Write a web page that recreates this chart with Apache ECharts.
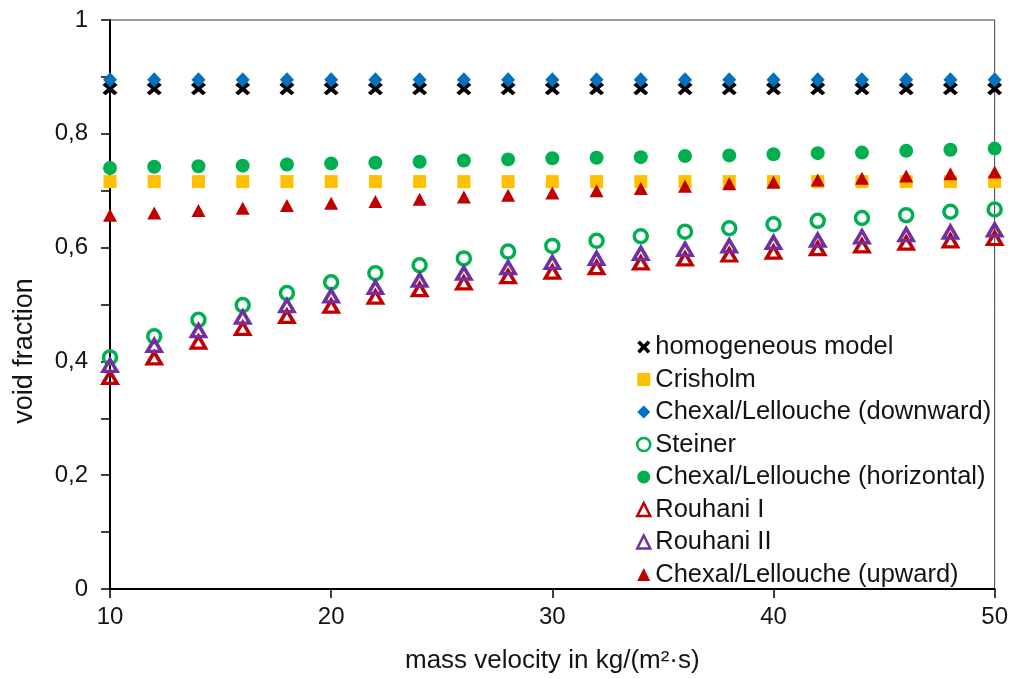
<!DOCTYPE html>
<html>
<head>
<meta charset="utf-8">
<script src="https://cdn.jsdelivr.net/npm/echarts@6/dist/echarts.min.js"></script>
<style>
  html, body { margin: 0; padding: 0; background: #fff; }
  #chart { width: 1011px; height: 679px; }
</style>
</head>
<body>
<div id="chart"></div>
<script>
// Mass velocity in kg/(m²·s)
const massVelocity = [10, 12, 14, 16, 18, 20, 22, 24, 26, 28, 30, 32, 34, 36, 38, 40, 42, 44, 46, 48, 50];

// Void fraction predicted by each correlation
const homogeneous = [0.879, 0.879, 0.879, 0.879, 0.879, 0.879, 0.879, 0.879, 0.879, 0.879, 0.879,
                     0.879, 0.879, 0.879, 0.879, 0.879, 0.879, 0.879, 0.879, 0.879, 0.879];
const crisholm = [0.716, 0.716, 0.716, 0.716, 0.716, 0.716, 0.716, 0.716, 0.716, 0.716, 0.716,
                  0.716, 0.716, 0.716, 0.716, 0.716, 0.716, 0.716, 0.716, 0.716, 0.716];
const chexalDownward = [0.895, 0.895, 0.895, 0.895, 0.895, 0.895, 0.895, 0.895, 0.895, 0.895, 0.895,
                        0.895, 0.895, 0.895, 0.895, 0.895, 0.895, 0.895, 0.895, 0.895, 0.895];
const steiner = [0.407, 0.444, 0.473, 0.499, 0.520, 0.539, 0.555, 0.569, 0.581, 0.593, 0.603,
                 0.612, 0.620, 0.628, 0.634, 0.641, 0.647, 0.652, 0.657, 0.663, 0.667];
const chexalHorizontal = [0.740, 0.742, 0.743, 0.744, 0.746, 0.748, 0.749, 0.751, 0.753, 0.755, 0.757,
                          0.758, 0.759, 0.761, 0.762, 0.764, 0.766, 0.767, 0.770, 0.772, 0.774];
const rouhaniI = [0.372, 0.406, 0.434, 0.458, 0.479, 0.497, 0.513, 0.526, 0.538, 0.549, 0.557,
                  0.565, 0.573, 0.580, 0.587, 0.592, 0.598, 0.603, 0.608, 0.612, 0.616];
const rouhaniII = [0.393, 0.428, 0.454, 0.478, 0.498, 0.515, 0.530, 0.543, 0.555, 0.565, 0.574,
                   0.581, 0.590, 0.597, 0.603, 0.609, 0.613, 0.619, 0.623, 0.627, 0.631];
const chexalUpward = [0.657, 0.661, 0.665, 0.669, 0.674, 0.678, 0.681, 0.685, 0.689, 0.692, 0.696,
                      0.700, 0.704, 0.708, 0.712, 0.715, 0.719, 0.722, 0.726, 0.730, 0.733];

const xTicks = [10, 20, 30, 40, 50];
const yTicks = [0, 0.2, 0.4, 0.6, 0.8, 1];

const FONT = "'Liberation Sans', Arial, sans-serif";
const TEXT = '#141414';
// bold "x" cross drawn as a filled outline
const CROSS = 'path://M0,2 L2,0 L5,3 L8,0 L10,2 L7,5 L10,8 L8,10 L5,7 L2,10 L0,8 L3,5 Z';

function pairs(ys) {
  return massVelocity.map((x, i) => [x, ys[i]]);
}

const seriesDefs = [
  { name: 'homogeneous model', data: homogeneous, symbol: CROSS, size: [15, 13],
    style: { color: '#000000' } },
  { name: 'Crisholm', data: crisholm, symbol: 'rect', size: 13,
    style: { color: '#FFC000' } },
  { name: 'Chexal/Lellouche (downward)', data: chexalDownward, symbol: 'diamond', size: [14, 15],
    style: { color: '#0070C0' } },
  { name: 'Steiner', data: steiner, symbol: 'circle', size: 13,
    style: { color: 'rgba(0,0,0,0)', borderColor: '#00B050', borderWidth: 3.5 } },
  { name: 'Chexal/Lellouche (horizontal)', data: chexalHorizontal, symbol: 'circle', size: 14,
    style: { color: '#00B050' } },
  { name: 'Rouhani I', data: rouhaniI, symbol: 'triangle', size: [14, 12],
    style: { color: 'rgba(0,0,0,0)', borderColor: '#C00000', borderWidth: 3.5 } },
  { name: 'Rouhani II', data: rouhaniII, symbol: 'triangle', size: [14, 12],
    style: { color: 'rgba(0,0,0,0)', borderColor: '#7030A0', borderWidth: 3.5 } },
  { name: 'Chexal/Lellouche (upward)', data: chexalUpward, symbol: 'triangle', size: [14, 13],
    style: { color: '#C00000' } }
];

const chart = echarts.init(document.getElementById('chart'), null, { renderer: 'canvas' });

chart.setOption({
  animation: false,
  backgroundColor: '#ffffff',
  textStyle: { fontFamily: FONT },
  grid: {
    left: 110, right: 14, top: 20, bottom: 88,
    show: true, borderColor: '#404040', borderWidth: 1, backgroundColor: 'transparent'
  },
  xAxis: {
    type: 'value',
    min: xTicks[0], max: xTicks[xTicks.length - 1], interval: 10,
    name: 'mass velocity in kg/(m²·s)',
    nameLocation: 'middle', nameGap: 59,
    nameTextStyle: { fontSize: 26, color: TEXT, fontFamily: FONT },
    axisLine: { onZero: false, lineStyle: { color: '#000', width: 2 } },
    axisTick: { show: true, length: 9, lineStyle: { color: '#000', width: 1.5 } },
    axisLabel: { fontSize: 24, color: TEXT, margin: 16, fontFamily: FONT },
    splitLine: { show: false }
  },
  yAxis: {
    type: 'value',
    min: yTicks[0], max: yTicks[yTicks.length - 1], interval: 0.2,
    axisLine: { onZero: false, lineStyle: { color: '#000', width: 2 } },
    axisTick: { show: true, length: 9, lineStyle: { color: '#000', width: 1.5 } },
    minorTick: { show: true, splitNumber: 2, length: 9, lineStyle: { color: '#000', width: 1.5 } },
    axisLabel: {
      fontSize: 24, color: TEXT, margin: 22, fontFamily: FONT,
      formatter: v => (v === 0 || v === 1) ? String(v) : v.toFixed(1).replace('.', ',')
    },
    splitLine: { show: false }
  },
  // vertical axis title, placed a little below the middle of the axis
  graphic: [{
    type: 'text',
    x: 25, y: 351,
    rotation: Math.PI / 2,
    style: {
      text: 'void fraction',
      font: "27px 'Liberation Sans', Arial, sans-serif",
      fill: TEXT,
      textAlign: 'center',
      textVerticalAlign: 'middle'
    }
  }],
  legend: {
    orient: 'vertical',
    left: 631, top: 329,
    itemWidth: 13, itemHeight: 13, itemGap: 6.5,
    textStyle: { fontSize: 25.5, lineHeight: 25.5, color: TEXT, fontFamily: FONT },
    data: seriesDefs.map(d => ({
      name: d.name,
      icon: d.symbol,
      itemStyle: Object.assign({}, d.style, d.style.borderWidth ? { borderWidth: 2.5 } : {})
    }))
  },
  series: seriesDefs.map(d => ({
    type: 'scatter',
    name: d.name,
    data: pairs(d.data),
    symbol: d.symbol,
    symbolSize: d.size,
    itemStyle: Object.assign({ opacity: 1 }, d.style),
    emphasis: { disabled: true }
  }))
});
</script>
</body>
</html>
